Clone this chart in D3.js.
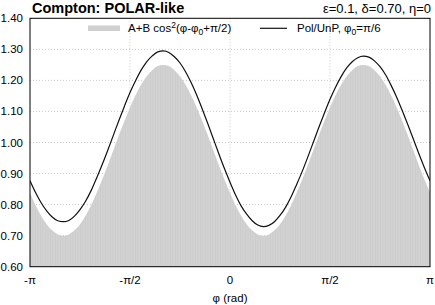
<!DOCTYPE html>
<html>
<head>
<meta charset="utf-8">
<script src="https://cdn.jsdelivr.net/npm/d3@7"></script>
<style>
  body { margin: 0; background: #fff; }
  svg { display: block; font-family: "Liberation Sans", Arial, sans-serif; }
</style>
</head>
<body>
<script>
// phi grid, degrees (every 5 deg from -180 to 180)
const phiDeg = d3.range(-180, 181, 5);

// histogram: A + B cos^2(phi - phi0 + pi/2)
const histValues = [
  0.838, 0.798, 0.764, 0.737, 0.717, 0.704, 0.700, 0.704, 0.717, 0.737,
  0.764, 0.798, 0.838, 0.881, 0.927, 0.975, 1.023, 1.069, 1.113, 1.152,
  1.186, 1.213, 1.233, 1.246, 1.250, 1.246, 1.233, 1.213, 1.186, 1.152,
  1.113, 1.069, 1.023, 0.975, 0.927, 0.881, 0.838, 0.798, 0.764, 0.737,
  0.717, 0.704, 0.700, 0.704, 0.717, 0.737, 0.764, 0.798, 0.838, 0.881,
  0.927, 0.975, 1.023, 1.069, 1.113, 1.152, 1.186, 1.213, 1.233, 1.246,
  1.250, 1.246, 1.233, 1.213, 1.186, 1.152, 1.113, 1.069, 1.023, 0.975,
  0.927, 0.881, 0.840
];

// Pol/UnP curve
const polValues = [
  0.877, 0.839, 0.806, 0.780, 0.760, 0.748, 0.745, 0.749, 0.763, 0.784,
  0.811, 0.845, 0.886, 0.929, 0.975, 1.023, 1.071, 1.117, 1.161, 1.199,
  1.233, 1.260, 1.279, 1.292, 1.295, 1.290, 1.276, 1.256, 1.228, 1.193,
  1.153, 1.108, 1.061, 1.012, 0.963, 0.916, 0.872, 0.831, 0.796, 0.769,
  0.748, 0.734, 0.729, 0.733, 0.745, 0.765, 0.791, 0.825, 0.865, 0.907,
  0.953, 1.001, 1.049, 1.095, 1.139, 1.178, 1.212, 1.240, 1.260, 1.273,
  1.278, 1.275, 1.263, 1.244, 1.218, 1.184, 1.146, 1.103, 1.058, 1.011,
  0.964, 0.919, 0.877
];

const yTicks = [0.6, 0.7, 0.8, 0.9, 1.0, 1.1, 1.2, 1.3, 1.4];
const xTickVals = [-Math.PI, -Math.PI / 2, 0, Math.PI / 2, Math.PI];
const xTickLabels = ["-π", "-π/2", "0", "π/2", "π"];

const W = 435, H = 305;
const pL = 30, pR = 430, pT = 18.3, pB = 266.7;

const svg = d3.select("body").append("svg")
  .attr("width", W).attr("height", H);

const x = d3.scaleLinear().domain([-Math.PI, Math.PI]).range([pL, pR]);
const y = d3.scaleLinear().domain([0.6, 1.4]).range([pB, pT]);
const rad = d => d * Math.PI / 180;

// clip + hatch pattern for histogram bins
const defs = svg.append("defs");
defs.append("clipPath").attr("id", "plot")
  .append("rect").attr("x", pL).attr("y", pT)
  .attr("width", pR - pL).attr("height", pB - pT);
const pat = defs.append("pattern").attr("id", "bins")
  .attr("patternUnits", "userSpaceOnUse")
  .attr("width", 2.5).attr("height", 10);
pat.append("rect").attr("width", 2.5).attr("height", 10).attr("fill", "#d2d2d2");
pat.append("rect").attr("width", 0.6).attr("height", 10).attr("fill", "#c8c8c8");

// grid
const grid = svg.append("g").attr("stroke", "#bdbdbd")
  .attr("stroke-width", 0.8).attr("stroke-dasharray", "1,2");
grid.selectAll("line.h").data(yTicks.slice(1, -1)).join("line")
  .attr("class", "h")
  .attr("x1", pL).attr("x2", pR)
  .attr("y1", d => y(d)).attr("y2", d => y(d));
grid.selectAll("line.v").data(xTickVals.slice(1, -1)).join("line")
  .attr("class", "v")
  .attr("y1", pT).attr("y2", pB)
  .attr("x1", d => x(d)).attr("x2", d => x(d));

// histogram area
const area = d3.area()
  .x((d, i) => x(rad(phiDeg[i])))
  .y0(pB)
  .y1(d => y(d))
  .curve(d3.curveMonotoneX);
svg.append("path")
  .datum(histValues)
  .attr("clip-path", "url(#plot)")
  .attr("fill", "url(#bins)")
  .attr("d", area);

// Pol/UnP line
const line = d3.line()
  .x((d, i) => x(rad(phiDeg[i])))
  .y(d => y(d))
  .curve(d3.curveMonotoneX);
svg.append("path")
  .datum(polValues)
  .attr("clip-path", "url(#plot)")
  .attr("fill", "none")
  .attr("stroke", "#111")
  .attr("stroke-width", 1.2)
  .attr("d", line);

// frame
svg.append("rect")
  .attr("x", pL).attr("y", pT)
  .attr("width", pR - pL).attr("height", pB - pT)
  .attr("fill", "none").attr("stroke", "#000").attr("stroke-width", 1);

// y axis labels
svg.append("g").attr("font-size", 11.5).attr("text-anchor", "end")
  .selectAll("text").data(yTicks).join("text")
  .attr("x", pL - 7).attr("y", d => y(d)).attr("dy", "0.35em")
  .attr("fill", "#000")
  .text(d => d3.format(".2f")(d));

// x axis labels
svg.append("g").attr("font-size", 11.5).attr("text-anchor", "middle")
  .selectAll("text").data(xTickVals).join("text")
  .attr("x", d => x(d)).attr("y", pB + 17)
  .attr("fill", "#000")
  .text((d, i) => xTickLabels[i]);

svg.append("text")
  .attr("x", x(0)).attr("y", 302)
  .attr("text-anchor", "middle").attr("font-size", 11.5)
  .text("φ (rad)");

// titles
svg.append("text")
  .attr("x", 32).attr("y", 13)
  .attr("font-size", 14.5).attr("font-weight", "bold")
  .text("Compton: POLAR-like");
svg.append("text")
  .attr("x", 431).attr("y", 13)
  .attr("text-anchor", "end").attr("font-size", 13)
  .text("ε=0.1, δ=0.70, η=0");

// legend
const lg = svg.append("g").attr("font-size", 11.5);
lg.append("rect")
  .attr("x", 88).attr("y", 25.5).attr("width", 32).attr("height", 5.5)
  .attr("fill", "#d0d0d0");
const t1 = lg.append("text").attr("x", 128).attr("y", 32);
t1.append("tspan").text("A+B cos");
t1.append("tspan").attr("dy", -4.5).attr("font-size", 8.5).text("2");
t1.append("tspan").attr("dy", 4.5).text("(φ-φ");
t1.append("tspan").attr("dy", 2.5).attr("font-size", 8.5).text("0");
t1.append("tspan").attr("dy", -2.5).text("+π/2)");

lg.append("line")
  .attr("x1", 260).attr("x2", 287).attr("y1", 28.3).attr("y2", 28.3)
  .attr("stroke", "#111").attr("stroke-width", 1.2);
const t2 = lg.append("text").attr("x", 297).attr("y", 32);
t2.append("tspan").text("Pol/UnP, φ");
t2.append("tspan").attr("dy", 2.5).attr("font-size", 8.5).text("0");
t2.append("tspan").attr("dy", -2.5).text("=π/6");
</script>
</body>
</html>
